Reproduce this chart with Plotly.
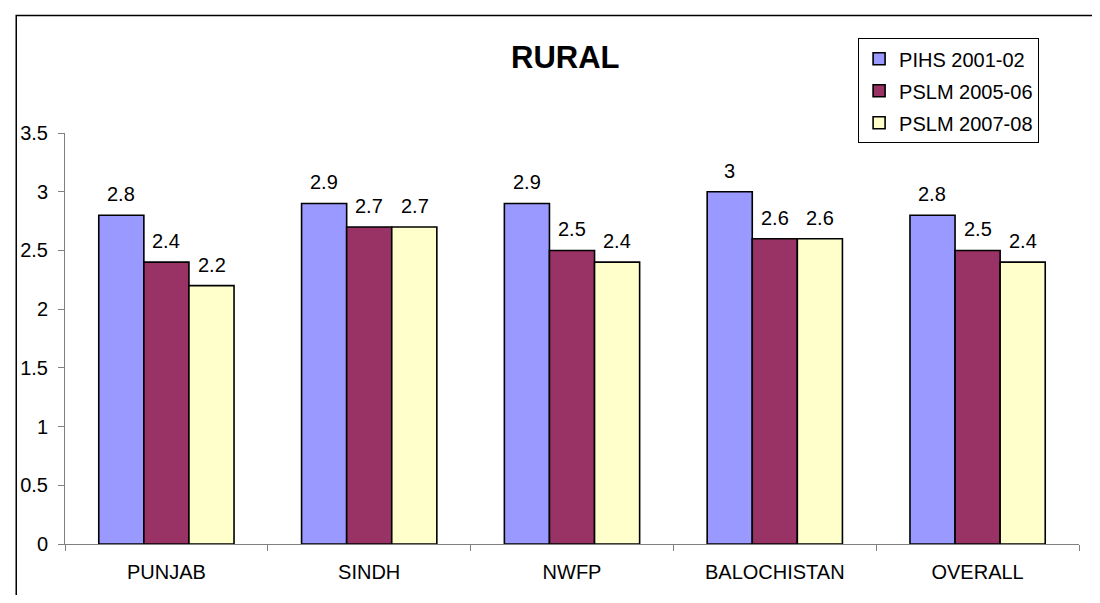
import plotly.graph_objects as go

categories = ["PUNJAB", "SINDH", "NWFP", "BALOCHISTAN", "OVERALL"]
series_names = ["PIHS 2001-02", "PSLM 2005-06", "PSLM 2007-08"]
pihs_2001 = [2.8, 2.9, 2.9, 3.0, 2.8]
pslm_2005 = [2.4, 2.7, 2.5, 2.6, 2.5]
pslm_2007 = [2.2, 2.7, 2.4, 2.6, 2.4]
y_ticks = [0, 0.5, 1, 1.5, 2, 2.5, 3, 3.5]
y_tick_labels = ["0", "0.5", "1", "1.5", "2", "2.5", "3", "3.5"]
chart_title = "RURAL"

colors = ["#9999FF", "#993366", "#FFFFCC"]
series = [pihs_2001, pslm_2005, pslm_2007]

FONT = "Liberation Sans, Arial, sans-serif"
# page body has an 8px margin; figure sized to fill 1100x603 window exactly
W, H = 1084, 587
ml, mr, mt, mb = 52, 13, 124.5, 48
bargap = 0.333
pw = W - ml - mr
ph = H - mt - mb


def px_x(x):  # figure pixel -> paper x
    return (x - ml) / pw


def px_y(y):  # figure pixel (from top) -> paper y
    return (H - mb - y) / ph


fig = go.Figure()
for name, vals, c in zip(series_names, series, colors):
    fig.add_trace(go.Bar(
        x=categories, y=vals, name=name, legendgroup=name,
        marker=dict(color=c, line=dict(color="black", width=1.6)),
    ))

cat_w = pw / len(categories)
bar_w = cat_w * (1 - bargap) / len(series)

annotations = []
for i, vals in enumerate(series):
    for cat, v in zip(categories, vals):
        annotations.append(dict(
            x=cat, y=v, xref="x", yref="y",
            text=f"{v:g}", showarrow=False,
            xshift=(i - 1) * bar_w, yshift=21, yanchor="middle",
            font=dict(family=FONT, size=20, color="black"),
        ))

annotations.append(dict(
    x=px_x(555), y=px_y(48), xref="paper", yref="paper",
    text=f"<b>{chart_title}</b>", showarrow=False,
    xanchor="center", yanchor="middle",
    font=dict(family=FONT, size=31, color="black"),
))

fig.update_layout(
    width=W, height=H,
    margin=dict(l=ml, r=mr, t=mt, b=mb, pad=0),
    paper_bgcolor="white", plot_bgcolor="white",
    barmode="group", bargap=bargap, bargroupgap=0,
    font=dict(family=FONT, size=20, color="black"),
    showlegend=True,
    legend=dict(
        x=px_x(849), y=px_y(29),
        xanchor="left", yanchor="top",
        bordercolor="black", borderwidth=1, bgcolor="white",
        font=dict(family=FONT, size=20), tracegroupgap=3,
        itemwidth=30,
    ),
    xaxis=dict(
        showline=True, linecolor="#808080", linewidth=1,
        ticks="outside", ticklen=6, tickcolor="#808080", tickson="boundaries",
        showgrid=False, tickfont=dict(family=FONT, size=20),
        ticklabelstandoff=10,
    ),
    yaxis=dict(
        range=[0, 3.5], tickvals=y_ticks, ticktext=y_tick_labels,
        showline=True, linecolor="#808080", linewidth=1,
        ticks="outside", ticklen=6, tickcolor="#808080",
        showgrid=False, zeroline=False, tickfont=dict(family=FONT, size=20),
        ticklabelstandoff=6,
    ),
    annotations=annotations,
)

# outer chart frame (extends past the image edge on right and bottom)
fig.add_shape(
    type="rect", xref="paper", yref="paper",
    x0=px_x(3), x1=px_x(W + 20),
    y0=px_y(H + 20), y1=px_y(6),
    line=dict(color="black", width=1.5), layer="below",
)

fig.write_html("out.html")
